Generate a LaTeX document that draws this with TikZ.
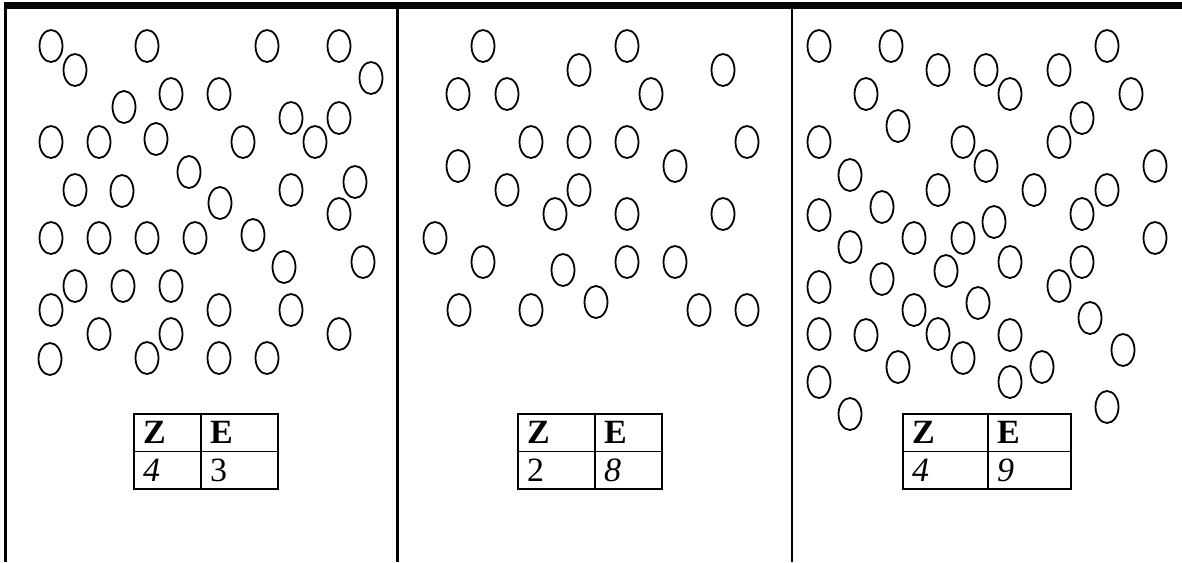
\documentclass[tikz,border=0pt]{standalone}
\usepackage{fontspec}
\setmainfont{Liberation Serif}
\usetikzlibrary{shapes.geometric}

\begin{document}
\begin{tikzpicture}[
  x=1pt, y=-1pt,
  every node/.style={font=\fontsize{34}{40}\selectfont},
  bubble/.style={ellipse, draw, line width=1.8pt, inner sep=0pt,
                 minimum width=23pt, minimum height=32pt},
  cell/.style={rectangle, draw, line width=1.9pt, anchor=north west,
               outer sep=0pt, inner xsep=9pt, inner ysep=0pt,
               minimum height=37.5pt, text height=22pt, text depth=0pt,
               align=left},
  frame/.style={line width=2.2pt},
  topbar/.style={line width=7pt}
]
\useasboundingbox (0,0) rectangle (1182,562);

\coordinate (tl) at (4,5);
\coordinate (tr) at (1182,5);
\coordinate (l1) at (5.5,8);    \coordinate (b1) at (5.5,562);
\coordinate (l2) at (397.5,8);  \coordinate (b2) at (397.5,562);
\coordinate (l3) at (792,8);    \coordinate (b3) at (792,562);

\draw[topbar] (tl) -- (tr);
\draw[frame] (l1) -- (b1);
\draw[frame] (l2) -- (b2);
\draw[frame] (l3) -- (b3);

% left box
\foreach \x/\y [count=\i] in {51/46, 75/70, 147/46, 267/46, 339/46, 371/78,
    171/94, 219/94, 124/107, 291/118, 339/118, 51/142, 99/142, 156/139,
    243/142, 315/142, 189/172, 355/182, 75/190, 122/191, 291/190, 220/203,
    339/214, 51/238, 99/238, 147/238, 195/238, 253/235, 284/267, 363/262,
    75/286, 123/286, 171/286, 51/310, 219/310, 291/310, 99/334, 171/334,
    339/334, 50/359, 147/358, 219/358, 267/358}
  \node[bubble] (a\i) at (\x,\y) {};

% middle box
\foreach \x/\y [count=\i] in {483/46, 627/46, 579/70, 723/70, 458/94, 507/94,
    651/94, 531/142, 579/142, 627/142, 747/142, 458/166, 675/166, 507/190,
    579/190, 555/214, 627/214, 723/214, 435/238, 483/262, 563/270, 627/262,
    675/262, 459/310, 531/310, 596/302, 699/310, 747/310}
  \node[bubble] (b\i) at (\x,\y) {};

% right box
\foreach \x/\y [count=\i] in {819/46, 891/46, 1107/46, 938/70, 986/70,
    1059/70, 866/94, 1010/94, 1131/94, 1082/118, 898/126, 819/142, 963/142,
    1059/142, 986/166, 1155/166, 850/175, 938/190, 1034/190, 1107/190,
    819/215, 882/207, 994/222, 1082/214, 850/247, 914/238, 963/238,
    1155/238, 1010/262, 1082/262, 946/271, 819/287, 882/279, 1059/286,
    978/303, 914/310, 1090/318, 819/334, 866/335, 938/334, 1010/335,
    1123/350, 898/367, 963/358, 1042/367, 819/382, 1010/382, 850/414,
    1107/407}
  \node[bubble] (c\i) at (\x,\y) {};

\node[cell, text width=49pt] (z1)  at (134,414)     {\textbf{Z}};
\node[cell, text width=59pt] (e1)  at (z1.north east) {\textbf{E}};
\node[cell, text width=49pt] (zv1) at (z1.south west) {\textit{4}};
\node[cell, text width=59pt] (ev1) at (zv1.north east) {3};

\node[cell, text width=59pt] (z2)  at (518,414)     {\textbf{Z}};
\node[cell, text width=49pt] (e2)  at (z2.north east) {\textbf{E}};
\node[cell, text width=59pt] (zv2) at (z2.south west) {2};
\node[cell, text width=49pt] (ev2) at (zv2.north east) {\textit{8}};

\node[cell, text width=67pt] (z3)  at (903,414)     {\textbf{Z}};
\node[cell, text width=65pt] (e3)  at (z3.north east) {\textbf{E}};
\node[cell, text width=67pt] (zv3) at (z3.south west) {\textit{4}};
\node[cell, text width=65pt] (ev3) at (zv3.north east) {\textit{9}};

\end{tikzpicture}
\end{document}
